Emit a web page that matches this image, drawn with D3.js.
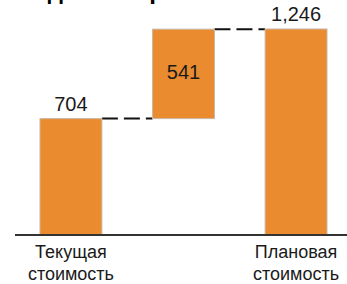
<!DOCTYPE html>
<html lang="ru">
<head>
<meta charset="UTF-8">
<title>Waterfall</title>
<script src="https://d3js.org/d3.v7.min.js"></script>
<style>
  html, body { margin: 0; padding: 0; background: #fff; }
  svg { display: block; font-family: "Liberation Sans", Arial, sans-serif; }
</style>
</head>
<body>
<div id="chart"></div>
<script>
// chart data
const categories = ["current", "delta", "planned"];
const catLines = [["Текущая", "стоимость"], [], ["Плановая", "стоимость"]];
const values = [704, 541, 1246];
const valueLabels = ["704", "541", "1,246"];
const kinds = ["total", "step", "total"];
const title = "Ожидаемый рост стоимости группы";

const w = 347, h = 284;
const baseY = 235;

// running start/end for every bar
const steps = [];
let acc = 0;
values.forEach((v, i) => {
  if (kinds[i] === "total") { steps.push({ y0: 0, y1: v }); acc = v; }
  else { steps.push({ y0: acc, y1: acc + v }); acc += v; }
});

const x = d3.scaleBand()
  .domain(categories)
  .range([15, 352])
  .paddingInner(0.45)
  .paddingOuter(0.222);

const y = d3.scaleLinear()
  .domain([0, 1246])
  .range([baseY, 29]);

const svg = d3.select("#chart").append("svg")
  .attr("width", w)
  .attr("height", h);

// title, mostly above the visible area
svg.append("text")
  .attr("x", w / 2 + 40)
  .attr("y", -1)
  .attr("text-anchor", "middle")
  .style("font-size", "24px")
  .style("font-weight", "bold")
  .style("fill", "#000")
  .text(title);

// connectors
for (let i = 0; i < categories.length - 1; i++) {
  const lvl = Math.max(steps[i].y0, steps[i].y1);
  svg.append("line")
    .attr("x1", x(categories[i]) + x.bandwidth())
    .attr("x2", x(categories[i + 1]))
    .attr("y1", y(lvl))
    .attr("y2", y(lvl))
    .style("stroke", "#111")
    .style("stroke-width", 2)
    .style("stroke-dasharray", "16,6");
}

svg.selectAll("rect.bar")
  .data(steps)
  .enter()
  .append("rect")
  .attr("class", "bar")
  .attr("x", (d, i) => x(categories[i]))
  .attr("y", d => y(Math.max(d.y0, d.y1)))
  .attr("width", x.bandwidth())
  .attr("height", d => Math.abs(y(d.y0) - y(d.y1)))
  .style("fill", "#EA8B2F")
  .style("stroke", "#c8b8a8")
  .style("stroke-width", 1);

// value labels
svg.selectAll("text.val")
  .data(steps)
  .enter()
  .append("text")
  .attr("class", "val")
  .attr("x", (d, i) => x(categories[i]) + x.bandwidth() / 2)
  .attr("y", (d, i) => kinds[i] === "total"
    ? y(d.y1) - 8
    : (y(d.y0) + y(d.y1)) / 2 + 5)
  .attr("text-anchor", "middle")
  .style("font-size", "20px")
  .style("fill", "#1a1a1a")
  .text((d, i) => valueLabels[i]);

// baseline
svg.append("line")
  .attr("x1", 15)
  .attr("x2", w)
  .attr("y1", baseY)
  .attr("y2", baseY)
  .style("stroke", "#333")
  .style("stroke-width", 2);

// category labels
categories.forEach((c, i) => {
  const t = svg.append("text")
    .attr("x", x(c) + x.bandwidth() / 2)
    .attr("y", 258)
    .attr("text-anchor", "middle")
    .style("font-size", "18px")
    .style("fill", "#1a1a1a");
  catLines[i].forEach((line, j) => {
    t.append("tspan")
      .attr("x", x(c) + x.bandwidth() / 2)
      .attr("dy", j === 0 ? 0 : 22)
      .text(line);
  });
});
</script>
</body>
</html>
